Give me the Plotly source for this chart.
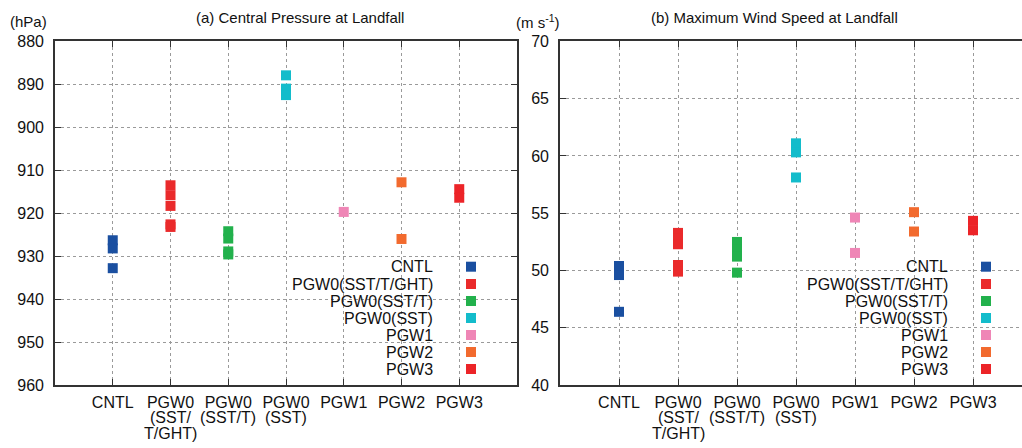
import plotly.graph_objects as go

# ---------------- data ----------------
experiments = ["CNTL", "PGW0(SST/T/GHT)", "PGW0(SST/T)", "PGW0(SST)", "PGW1", "PGW2", "PGW3"]
tick_first = ["CNTL", "PGW0", "PGW0", "PGW0", "PGW1", "PGW2", "PGW3"]
tick_more = [[], ["(SST/", "T/GHT)"], ["(SST/T)"], ["(SST)"], [], [], []]
colors = ["#1a4fa0", "#ea2a2b", "#22b14c", "#13bccb", "#ef86b6", "#f26a2e", "#ec2428"]

pressure = [
    [926.3, 928.2, 932.8],
    [913.5, 915.8, 918.3, 922.6, 923.2],
    [924.2, 925.9, 928.9, 929.6],
    [887.9, 891.0, 892.5],
    [919.7],
    [912.8, 926.0],
    [914.4, 916.4],
]
wind = [
    [50.39, 49.6, 46.39],
    [53.28, 52.78, 52.29, 50.48, 49.9],
    [52.49, 51.85, 51.21, 49.81],
    [61.1, 60.31, 58.12],
    [54.62, 51.53],
    [55.09, 53.4],
    [54.33, 53.51],
]
p_ticks = [880, 890, 900, 910, 920, 930, 940, 950, 960]
w_ticks = [40, 45, 50, 55, 60, 65, 70]

# ---------------- layout geometry (pixels) ----------------
W, H = 1022, 448
FONT = "Liberation Sans, Arial, Helvetica, sans-serif"
FRAME = "#333333"
GRID = "#9a9a9a"

def px(x):
    return x / W

def py(y):
    return (H - y) / H

top, bottom = 41.4, 385.0
left_dom = [px(55), px(517)]
right_dom = [px(560), 1.0]
ydom = [py(bottom), py(top)]

fig = go.Figure()

for i, name in enumerate(experiments):
    fig.add_trace(go.Scatter(
        x=[i] * len(pressure[i]), y=pressure[i], mode="markers",
        marker=dict(symbol="square", size=10, color=colors[i], line=dict(width=0)),
        name=name, showlegend=False, xaxis="x", yaxis="y", cliponaxis=False))
    fig.add_trace(go.Scatter(
        x=[i] * len(wind[i]), y=wind[i], mode="markers",
        marker=dict(symbol="square", size=10, color=colors[i], line=dict(width=0)),
        name=name, showlegend=False, xaxis="x2", yaxis="y2", cliponaxis=False))

common_axis = dict(
    showline=True, linecolor=FRAME, linewidth=1.6, automargin=False,
    ticks="inside", ticklen=6, tickwidth=1.3, tickcolor=FRAME,
    showgrid=True, gridcolor=GRID, griddash="dot", gridwidth=1,
    zeroline=False, tickfont=dict(family=FONT, size=16, color="#111111"),
)

fig.update_layout(
    width=W, height=H, autosize=False,
    margin=dict(l=0, r=0, t=0, b=0, pad=0),
    paper_bgcolor="white", plot_bgcolor="white",
    font=dict(family=FONT, size=16, color="#111111"),
    xaxis=dict(common_axis, domain=left_dom, range=[-1, 7], tickmode="array",
               tickvals=list(range(len(experiments))), ticktext=tick_first,
               mirror="ticks", anchor="y", ticklabelstandoff=2),
    yaxis=dict(common_axis, domain=ydom, range=[960, 880], tickmode="array",
               tickvals=p_ticks, ticktext=[str(v) for v in p_ticks],
               mirror="ticks", anchor="x", ticklabelstandoff=6),
    xaxis2=dict(common_axis, domain=right_dom, range=[-1, -1 + 462 / 59], tickmode="array",
                tickvals=list(range(len(experiments))), ticktext=tick_first,
                mirror="ticks", anchor="y2", ticklabelstandoff=2),
    yaxis2=dict(common_axis, domain=ydom, range=[40, 70], tickmode="array",
                tickvals=w_ticks, ticktext=[str(v) for v in w_ticks],
                mirror=False, anchor="x2", ticklabelstandoff=6),
)

shapes = []
annotations = []

# continuation lines of category labels
line_y = [417.5, 433.5]
for xa in ["x", "x2"]:
    for i, more in enumerate(tick_more):
        for k, t in enumerate(more):
            annotations.append(dict(
                x=i, y=py(line_y[k]), xref=xa, yref="paper", text=t, showarrow=False,
                xanchor="center", yanchor="middle",
                font=dict(family=FONT, size=16, color="#111111")))

# legends (white key box, right-aligned labels, colour keys)
rows = [266.7, 284.0, 301.0, 318.0, 335.0, 352.0, 369.0]
for box_l, box_r, text_r, key_c in [(282, 516, 435, 471), (797, 1022, 950, 986)]:
    shapes.append(dict(type="rect", xref="paper", yref="paper", layer="between",
                       x0=px(box_l), x1=px(box_r), y0=py(bottom - 1), y1=py(258),
                       fillcolor="white", line=dict(width=0)))
    for name, col, ry in zip(experiments, colors, rows):
        annotations.append(dict(
            x=px(text_r), y=py(ry), xref="paper", yref="paper", text=name, showarrow=False,
            xanchor="right", yanchor="middle",
            font=dict(family=FONT, size=16, color="#111111")))
        shapes.append(dict(type="rect", xref="paper", yref="paper", layer="above",
                           x0=px(key_c - 5), x1=px(key_c + 5), y0=py(ry + 5), y1=py(ry - 5),
                           fillcolor=col, line=dict(width=0)))

# titles and unit labels
annotations += [
    dict(x=px(299.5), y=py(17), xref="paper", yref="paper", text="(a) Central Pressure at Landfall",
         showarrow=False, xanchor="center", yanchor="middle", font=dict(family=FONT, size=15, color="#111111")),
    dict(x=px(774.5), y=py(17), xref="paper", yref="paper", text="(b) Maximum Wind Speed at Landfall",
         showarrow=False, xanchor="center", yanchor="middle", font=dict(family=FONT, size=15, color="#111111")),
    dict(x=px(28), y=py(21), xref="paper", yref="paper", text="(hPa)",
         showarrow=False, xanchor="center", yanchor="middle", font=dict(family=FONT, size=15, color="#111111")),
    dict(x=px(538), y=py(21), xref="paper", yref="paper", text="(m s<sup>-1</sup>)",
         showarrow=False, xanchor="center", yanchor="middle", font=dict(family=FONT, size=15, color="#111111")),
]

fig.update_layout(shapes=shapes, annotations=annotations)
fig.write_html("out.html")
